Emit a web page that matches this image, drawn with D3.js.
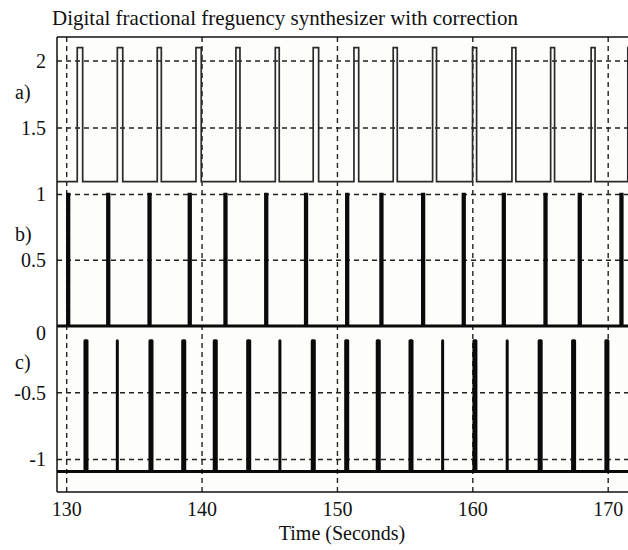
<!DOCTYPE html>
<html>
<head>
<meta charset="utf-8">
<script src="https://cdn.jsdelivr.net/npm/d3@7"></script>
<style>
  html, body { margin: 0; padding: 0; background: #fff; }
</style>
</head>
<body>
<svg id="chart" width="628" height="550"></svg>
<script>
/* ── DATI ─────────────────────────────────────── */

const TITOLO   = "Digital fractional freguency synthesizer with correction";
const X_LABEL  = "Time (Seconds)";
const X_TICKS  = [130, 140, 150, 160, 170];

// a) impulsi rettangolari fra 1.1 e 2.1
const A_LOW         = 1.1;
const A_HIGH        = 2.1;
const A_PULSE_START = [130.78, 133.74, 136.69, 139.55, 142.50, 145.41, 148.21, 151.22,
                       154.12, 157.03, 159.98, 162.89, 165.75, 168.74, 171.45];
const A_PULSE_END   = [131.18, 134.14, 136.99, 139.94, 142.80, 145.70, 148.61, 151.57,
                       154.42, 157.32, 160.28, 163.18, 166.04, 169.03, 171.80];
const A_TICKS       = [2, 1.5];

// b) impulsi stretti fra 0 e 1
const B_LOW   = 0;
const B_HIGH  = 1;
const B_PULSE = [130.07, 133.03, 136.08, 139.05, 141.69, 144.70, 147.64, 150.68,
                 153.21, 156.29, 159.29, 162.25, 165.33, 167.86, 170.94];
const B_WIDTH = 0.08;
const B_TICKS = [1, 0.5];

// c) impulsi fra -1.09 e -0.11 (alcuni più sottili)
const C_LOW   = -1.09;
const C_HIGH  = -0.11;
const C_PULSE = [131.35, 133.74, 136.15, 138.57, 140.90, 143.37, 145.75, 148.14, 150.61,
                 152.94, 155.36, 157.77, 160.08, 162.54, 164.90, 167.37, 169.83];
const C_WIDTH = [0.15, 0, 0.15, 0.15, 0.15, 0.15, 0, 0.15, 0.15,
                 0.15, 0.15, 0, 0.15, 0, 0.15, 0.15, 0.15];
const C_TICKS = [0, -0.5, -1];

/* ── LAYOUT ───────────────────────────────────── */

const FONT = "'Liberation Serif', 'Times New Roman', Times, 'DejaVu Serif', serif";
const LEFT = 57, RIGHT = 640, TOP = 37, BOTTOM = 492;
const svg  = d3.select("#chart");

const x = d3.scaleLinear().domain([129.284, 172.35]).range([LEFT, RIGHT]);

const yA = d3.scaleLinear().domain([1.075, 2.179]).range([185, TOP]);
const yB = d3.scaleLinear().domain([0, 1.072]).range([326, 185]);
const yC = d3.scaleLinear().domain([-1.244, 0]).range([BOTTOM, 326]);

const panels = [
  { id: "a", y: yA, ticks: A_TICKS, top: TOP, labelY: 99 },
  { id: "b", y: yB, ticks: B_TICKS, top: 185, labelY: 241 },
  { id: "c", y: yC, ticks: C_TICKS, top: 326, labelY: 369 }
];

svg.append("defs").append("clipPath").attr("id", "clip")
  .append("rect").attr("x", LEFT).attr("y", TOP - 2)
  .attr("width", RIGHT - LEFT).attr("height", BOTTOM - TOP + 4);

// sfondo area grafico
svg.append("rect")
  .attr("x", LEFT).attr("y", TOP).attr("width", RIGHT - LEFT).attr("height", BOTTOM - TOP)
  .attr("fill", "#fdfdfb");

/* ── GRIGLIA ──────────────────────────────────── */

const grid = svg.append("g").attr("stroke", "#222").attr("stroke-width", 1.4)
  .attr("stroke-dasharray", "5,4").attr("clip-path", "url(#clip)");

grid.selectAll("line.v").data(X_TICKS).join("line")
  .attr("class", "v")
  .attr("x1", d => x(d)).attr("x2", d => x(d))
  .attr("y1", TOP).attr("y2", BOTTOM);

panels.forEach(p => {
  grid.selectAll(`line.h${p.id}`).data(p.ticks.filter(v => p.y(v) > p.top + 2)).join("line")
    .attr("class", `h${p.id}`)
    .attr("x1", LEFT).attr("x2", RIGHT)
    .attr("y1", d => p.y(d)).attr("y2", d => p.y(d));
});

/* ── SEGNALI ──────────────────────────────────── */

function pathImpulsi(starts, ends, low, high, y) {
  const p = d3.path();
  p.moveTo(LEFT, y(low));
  starts.forEach((t, i) => {
    p.lineTo(x(t), y(low));
    p.lineTo(x(t), y(high));
    p.lineTo(x(ends[i]), y(high));
    p.lineTo(x(ends[i]), y(low));
  });
  p.lineTo(RIGHT, y(low));
  return p.toString();
}

const data = svg.append("g").attr("clip-path", "url(#clip)").attr("fill", "none");

data.append("path")
  .attr("d", pathImpulsi(A_PULSE_START, A_PULSE_END, A_LOW, A_HIGH, yA))
  .attr("stroke", "#2a2a2a").attr("stroke-width", 1.7);

data.append("path")
  .attr("d", pathImpulsi(B_PULSE, B_PULSE.map(t => t + B_WIDTH), B_LOW, B_HIGH, yB))
  .attr("stroke", "#0a0a0a").attr("stroke-width", 3.2);

data.append("path")
  .attr("d", pathImpulsi(C_PULSE, C_PULSE.map((t, i) => t + C_WIDTH[i]), C_LOW, C_HIGH, yC))
  .attr("stroke", "#0a0a0a").attr("stroke-width", 3)
  .attr("stroke-linejoin", "round");

/* ── CORNICE ──────────────────────────────────── */

const frame = svg.append("g").attr("stroke", "#111").attr("stroke-width", 1.5);
frame.append("line").attr("x1", LEFT).attr("x2", RIGHT).attr("y1", TOP).attr("y2", TOP);
frame.append("line").attr("x1", LEFT).attr("x2", RIGHT).attr("y1", BOTTOM).attr("y2", BOTTOM);
frame.append("line").attr("x1", LEFT).attr("x2", LEFT).attr("y1", TOP).attr("y2", BOTTOM);

/* ── ETICHETTE ────────────────────────────────── */

const testi = svg.append("g")
  .attr("font-family", FONT).attr("font-size", 20).attr("fill", "#111");

panels.forEach(p => {
  testi.append("g").selectAll("text").data(p.ticks).join("text")
    .attr("x", 46)
    .attr("y", d => Math.max(p.y(d), p.top + 7))
    .attr("dy", "0.34em")
    .attr("text-anchor", "end")
    .text(d => String(d));

  testi.append("text")
    .attr("x", 15).attr("y", p.labelY)
    .text(`${p.id})`);
});

testi.append("g").selectAll("text").data(X_TICKS).join("text")
  .attr("x", d => x(d)).attr("y", 516)
  .attr("text-anchor", "middle")
  .text(d => d);

testi.append("text")
  .attr("x", 342).attr("y", 540)
  .attr("text-anchor", "middle")
  .text(X_LABEL);

testi.append("text")
  .attr("x", 52).attr("y", 25)
  .attr("font-size", 21)
  .text(TITOLO);
</script>
</body>
</html>
